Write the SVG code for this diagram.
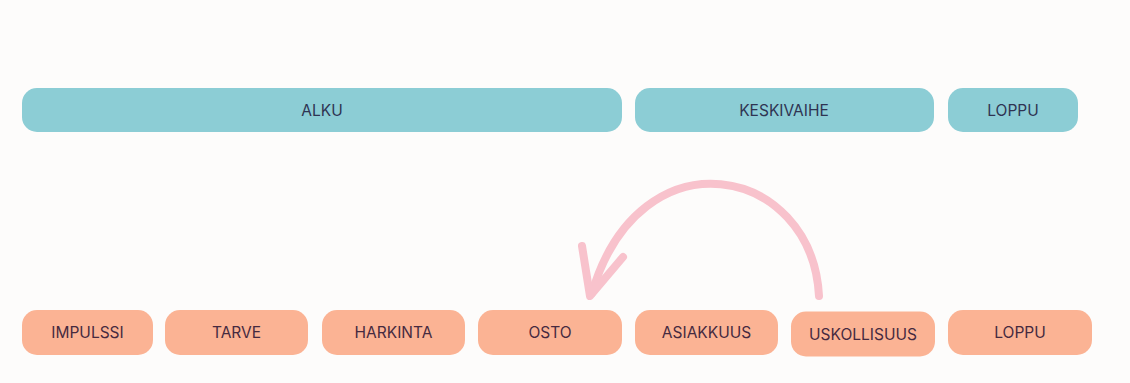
<svg xmlns="http://www.w3.org/2000/svg" width="1130" height="383" viewBox="0 0 1130 383">
  <style>
    .phase rect { fill: #8ccdd5; }
    .step rect { fill: #fbb394; }
    text { font-family: Inter, "Open Sans", "Liberation Sans", sans-serif; font-size: 15.5px; text-anchor: middle; }
    .phase text { fill: #2f3452; }
    .step text { fill: #462a40; }
    .loop { fill: none; stroke: #f8c2cc; stroke-width: 8; stroke-linecap: round; stroke-linejoin: round; }
  </style>
  <rect width="1130" height="383" fill="#fdfcfb"/>

  <!-- phase bar -->
  <g id="alku" class="phase"><rect x="22" y="88" width="600" height="44" rx="15"/><text x="322" y="115.5">ALKU</text></g>
  <g id="keskivaihe" class="phase"><rect x="635" y="88" width="299" height="44" rx="15"/><text x="784" y="115.5">KESKIVAIHE</text></g>
  <g id="loppu-phase" class="phase"><rect x="948" y="88" width="130" height="44" rx="15"/><text x="1013" y="115.5">LOPPU</text></g>

  <!-- customer journey steps -->
  <g id="impulssi" class="step"><rect x="22" y="310" width="131" height="45" rx="15"/><text x="87.5" y="338">IMPULSSI</text></g>
  <g id="tarve" class="step"><rect x="165" y="310" width="143" height="45" rx="15"/><text x="236.5" y="338">TARVE</text></g>
  <g id="harkinta" class="step"><rect x="322" y="310" width="143" height="45" rx="15"/><text x="393.5" y="338">HARKINTA</text></g>
  <g id="osto" class="step"><rect x="478" y="310" width="144" height="45" rx="15"/><text x="550" y="338">OSTO</text></g>
  <g id="asiakkuus" class="step"><rect x="635" y="310" width="143" height="45" rx="15"/><text x="706.5" y="338">ASIAKKUUS</text></g>
  <g id="uskollisuus" class="step"><rect x="791" y="311.5" width="144" height="45" rx="15"/><text x="863" y="339.5">USKOLLISUUS</text></g>
  <g id="loppu-step" class="step"><rect x="948" y="310" width="144" height="45" rx="15"/><text x="1020" y="338">LOPPU</text></g>

  <!-- loyalty loop back to purchase -->
  <g id="connectors">
    <path class="loop" d="M819,296 C812,165 640,130 592,293"/>
    <path class="loop" d="M582,246 L590,296 L623,257"/>
  </g>
</svg>
